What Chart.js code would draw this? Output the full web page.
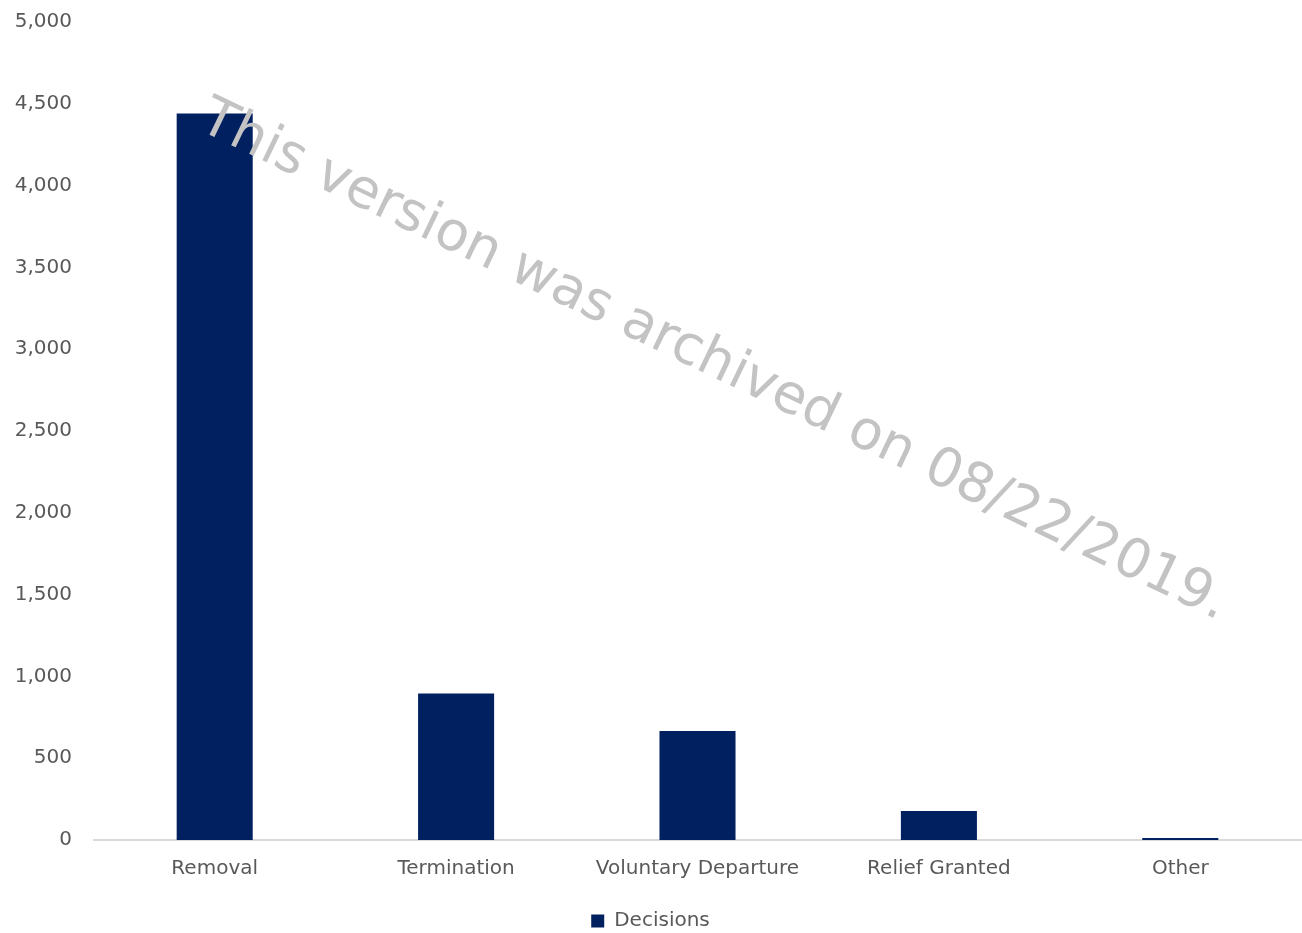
<!DOCTYPE html>
<html>
<head>
<meta charset="utf-8">
<script src="https://cdn.jsdelivr.net/npm/chart.js@4.4.1/dist/chart.umd.min.js"></script>
<style>
html,body{margin:0;padding:0;background:#fff;}
#wrap{width:1302px;height:933px;position:relative;}
</style>
</head>
<body>
<div id="wrap"><canvas id="c"></canvas></div>
<script>
const categories = ["Removal", "Termination", "Voluntary Departure", "Relief Granted", "Other"];
const decisions = [4440, 895, 667, 178, 12];
const seriesLabel = "Decisions";
const watermark = "This version was archived on 08/22/2019.";

const FONT = "'DejaVu Sans', 'Liberation Sans', sans-serif";

const watermarkPlugin = {
  id: 'watermark',
  afterDatasetsDraw(chart) {
    const ctx = chart.ctx;
    ctx.save();
    ctx.font = "100px " + FONT;
    const w100 = ctx.measureText(watermark).width;
    const size = 100 * 1133 / w100;
    ctx.translate(203, 116);
    ctx.rotate(25.7 * Math.PI / 180);
    ctx.font = size.toFixed(1) + "px " + FONT;
    ctx.fillStyle = "#c3c3c3";
    ctx.textBaseline = "middle";
    ctx.textAlign = "left";
    ctx.fillText(watermark, 0, 0);
    ctx.restore();
  }
};

new Chart(document.getElementById('c'), {
  type: 'bar',
  data: {
    labels: categories,
    datasets: [{
      label: seriesLabel,
      data: decisions,
      backgroundColor: '#002060',
      borderWidth: 0,
      barPercentage: 0.315,
      categoryPercentage: 1.0
    }]
  },
  options: {
    responsive: true,
    maintainAspectRatio: false,
    animation: false,
    layout: { padding: { top: 22, right: 1, left: 0, bottom: -8 } },
    plugins: {
      tooltip: { enabled: false },
      legend: {
        position: 'bottom',
        labels: {
          boxWidth: 13, boxHeight: 13,
          color: '#595959',
          font: { family: FONT, size: 20 },
          padding: 3
        }
      }
    },
    scales: {
      x: {
        afterFit(scale) { scale.height += 10; },
        grid: { display: false, drawTicks: false },
        border: { color: '#d9d9d9', width: 2 },
        ticks: { color: '#595959', font: { family: FONT, size: 20 }, padding: 17, maxRotation: 0 }
      },
      y: {
        min: 0, max: 5000,
        afterFit(scale) { scale.width = 94; scale.paddingTop = 0; scale.paddingBottom = 0; },
        grid: { display: false, drawTicks: false },
        border: { display: false },
        ticks: {
          stepSize: 500,
          color: '#595959',
          font: { family: FONT, size: 20 },
          padding: 22,
          callback: v => v.toLocaleString('en-US')
        }
      }
    }
  },
  plugins: [watermarkPlugin]
});
</script>
</body>
</html>
